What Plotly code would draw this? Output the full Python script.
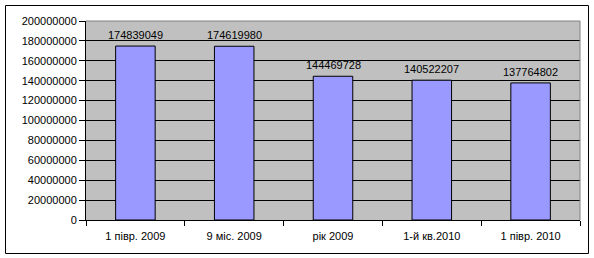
import plotly.graph_objects as go

categories = ["1 півр. 2009", "9 міс. 2009", "рік 2009", "1-й кв.2010", "1 півр. 2010"]
values = [174839049, 174619980, 144469728, 140522207, 137764802]
y_ticks = [0, 20000000, 40000000, 60000000, 80000000, 100000000,
           120000000, 140000000, 160000000, 180000000, 200000000]
y_tick_labels = [str(v) for v in y_ticks]

FONT = "Arial, Liberation Sans, sans-serif"

fig = go.Figure(go.Bar(
    x=categories, y=values,
    marker=dict(color="#9999FF", line=dict(color="black", width=1)),
    cliponaxis=False, width=0.4,
))

for c, v in zip(categories, values):
    fig.add_annotation(x=c, y=v, text=str(v), showarrow=False,
                       yanchor="bottom", xanchor="center", yshift=3,
                       font=dict(family=FONT, size=11, color="black"))

W, H = 594, 258
L, R, T, B = 86, 14, 21, 38
pw, ph = W - L - R, H - T - B

def px(x):
    return (x - L) / pw

def py(y):
    return (H - B - y) / ph

fig.update_layout(
    width=W, height=H,
    margin=dict(l=L, r=R, t=T, b=B, pad=0),
    paper_bgcolor="white", plot_bgcolor="#C0C0C0",
    font=dict(family=FONT, size=11, color="black"),
    showlegend=False,
    xaxis=dict(showline=True, linecolor="black", linewidth=1,
               ticks="outside", tickson="boundaries", ticklen=5,
               tickcolor="black", showgrid=False, ticklabelstandoff=6,
               tickfont=dict(family=FONT, size=11, color="black")),
    yaxis=dict(range=[0, 200000000], tickvals=y_ticks, ticktext=y_tick_labels,
               showline=True, linecolor="black", linewidth=1,
               ticks="outside", ticklen=6, tickcolor="black",
               showgrid=True, gridcolor="black", gridwidth=1,
               zeroline=False,
               tickfont=dict(family=FONT, size=11, color="black")),
    shapes=[
        dict(type="line", xref="paper", yref="paper", x0=0, x1=1, y0=1, y1=1,
             line=dict(color="#808080", width=1), layer="above"),
        dict(type="line", xref="paper", yref="paper", x0=1, x1=1, y0=0, y1=1,
             line=dict(color="#808080", width=1), layer="above"),
        dict(type="rect", xref="paper", yref="paper",
             x0=px(5.5), x1=px(588.5), y0=py(253.5), y1=py(5.5),
             line=dict(color="black", width=1), layer="above"),
    ],
)

fig.write_html("out.html")
